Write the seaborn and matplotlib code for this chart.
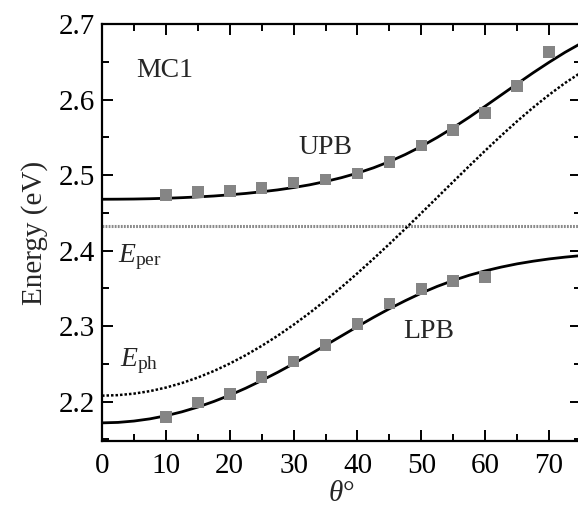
import matplotlib
matplotlib.use("Agg")
import matplotlib.pyplot as plt
from matplotlib.ticker import MultipleLocator
import numpy as np
import pandas as pd
import seaborn as sns

# Angle grid for the calculated dispersion curves (degrees)
theta_curve = [0, 2.5, 5, 7.5, 10, 12.5, 15, 17.5, 20, 22.5, 25, 27.5, 30, 32.5,
               35, 37.5, 40, 42.5, 45, 47.5, 50, 52.5, 55, 57.5, 60, 62.5, 65,
               67.5, 70, 72.5, 75]

# Upper polariton branch (eV)
upb_curve = [2.4680, 2.4681, 2.4683, 2.4687, 2.4693, 2.4701, 2.4711, 2.4723,
             2.4739, 2.4757, 2.4779, 2.4804, 2.4835, 2.4871, 2.4915, 2.4966,
             2.5026, 2.5096, 2.5178, 2.5273, 2.5380, 2.5499, 2.5628, 2.5766,
             2.5912, 2.6060, 2.6208, 2.6354, 2.6493, 2.6625, 2.6744]

# Lower polariton branch (eV)
lpb_curve = [2.1720, 2.1726, 2.1744, 2.1773, 2.1814, 2.1866, 2.1929, 2.2003,
             2.2086, 2.2179, 2.2281, 2.2389, 2.2504, 2.2624, 2.2747, 2.2871,
             2.2995, 2.3116, 2.3231, 2.3338, 2.3438, 2.3527, 2.3605, 2.3674,
             2.3732, 2.3782, 2.3825, 2.3860, 2.3890, 2.3914, 2.3934]

# Uncoupled cavity photon mode (eV)
eph_curve = [2.2080, 2.2087, 2.2107, 2.2140, 2.2187, 2.2247, 2.2320, 2.2406,
             2.2505, 2.2616, 2.2739, 2.2873, 2.3019, 2.3175, 2.3342, 2.3517,
             2.3701, 2.3892, 2.4089, 2.4291, 2.4497, 2.4705, 2.4913, 2.5120,
             2.5324, 2.5522, 2.5713, 2.5894, 2.6063, 2.6219, 2.6358]

# Perovskite exciton energy (eV)
e_per = 2.432

# Measured reflectivity minima
theta_upb_meas = [10, 15, 20, 25, 30, 35, 40, 45, 50, 55, 60, 65, 70]
upb_meas = [2.474, 2.478, 2.479, 2.483, 2.490, 2.494, 2.502, 2.517, 2.539,
            2.560, 2.582, 2.618, 2.663]
theta_lpb_meas = [10, 15, 20, 25, 30, 35, 40, 45, 50, 55, 60]
lpb_meas = [2.180, 2.199, 2.210, 2.233, 2.253, 2.275, 2.303, 2.330, 2.349,
            2.360, 2.365]

curves = pd.DataFrame({"theta": theta_curve, "UPB": upb_curve,
                       "LPB": lpb_curve, "Eph": eph_curve})
meas_upb = pd.DataFrame({"theta": theta_upb_meas, "E": upb_meas})
meas_lpb = pd.DataFrame({"theta": theta_lpb_meas, "E": lpb_meas})

sns.set_theme(style="ticks")
plt.rcParams["font.family"] = ["Liberation Serif", "DejaVu Serif"]
plt.rcParams["mathtext.fontset"] = "custom"
plt.rcParams["mathtext.it"] = "Liberation Serif:italic"
plt.rcParams["mathtext.rm"] = "Liberation Serif"

fig = plt.figure(figsize=(5.78, 5.15), dpi=100)
ax = fig.add_axes([0.1765, 0.1437, 0.8287, 0.8097])

# Exciton level
ax.axhline(e_per, color="#8a8a8a", lw=2.2, ls=(0, (0.6, 0.4)), zorder=1)

sns.lineplot(data=curves, x="theta", y="Eph", ax=ax, color="black",
             lw=1.8, ls=(0, (1, 0.8)), zorder=2)
sns.lineplot(data=curves, x="theta", y="UPB", ax=ax, color="black",
             lw=2.0, zorder=3)
sns.lineplot(data=curves, x="theta", y="LPB", ax=ax, color="black",
             lw=2.0, zorder=3)

sns.scatterplot(data=meas_upb, x="theta", y="E", ax=ax, marker="s", s=70,
                color="#858585", edgecolor="none", zorder=4)
sns.scatterplot(data=meas_lpb, x="theta", y="E", ax=ax, marker="s", s=70,
                color="#858585", edgecolor="none", zorder=4)

ax.set_xlim(0, 75)
ax.set_ylim(2.148, 2.7)
ax.xaxis.set_major_locator(MultipleLocator(10))
ax.xaxis.set_minor_locator(MultipleLocator(5))
ax.yaxis.set_major_locator(MultipleLocator(0.1))
ax.yaxis.set_minor_locator(MultipleLocator(0.05))
ax.tick_params(which="both", direction="in", top=True, right=True,
               width=1.4, labelsize=21, colors="black")
ax.tick_params(which="major", length=8)
ax.tick_params(which="minor", length=5)
ax.tick_params(axis="x", which="major", pad=9)
ax.tick_params(axis="y", which="major", pad=5)
for sp in ax.spines.values():
    sp.set_linewidth(1.6)
    sp.set_color("black")
    sp.set_visible(True)

ax.set_xlabel(r"$\theta$°", fontsize=21, labelpad=1)
ax.set_ylabel("Energy (eV)", fontsize=21, labelpad=8)

ax.text(5.3, 2.639, "MC1", fontsize=20, va="center", ha="left")
ax.text(30.7, 2.536, "UPB", fontsize=20, va="center", ha="left")
ax.text(47.1, 2.293, "LPB", fontsize=20, va="center", ha="left")
ax.text(2.5, 2.391, r"$E_{\rm per}$", fontsize=20, va="center", ha="left")
ax.text(2.8, 2.254, r"$E_{\rm ph}$", fontsize=20, va="center", ha="left")

fig.savefig("out.png", dpi=100)
